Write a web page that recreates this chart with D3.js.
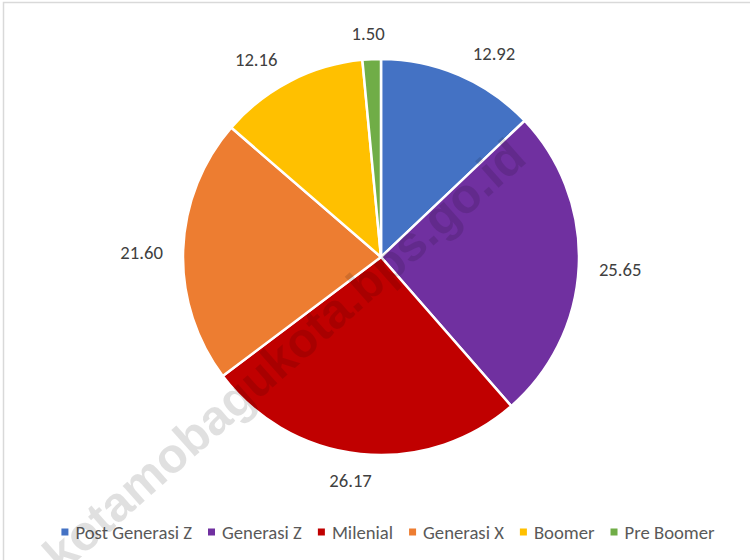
<!DOCTYPE html>
<html>
<head>
<meta charset="utf-8">
<script src="https://cdn.jsdelivr.net/npm/d3@7"></script>
<style>
  html, body { margin: 0; padding: 0; background: #fff; }
  svg { display: block; }
</style>
</head>
<body>
<svg id="chart" width="750" height="560"></svg>
<script>
(function () {
  "use strict";

  var categories = ["Post Generasi Z", "Generasi Z", "Milenial", "Generasi X", "Boomer", "Pre Boomer"];
  var values = [12.92, 25.65, 26.17, 21.60, 12.16, 1.50];
  var colors = ["#4472C4", "#7030A0", "#C00000", "#ED7D31", "#FFC000", "#70AD47"];
  // small angular shifts (deg) so labels clear the thin slice, like the original
  var labelShiftDeg = [5.8, 0.4, 1.8, -0.9, -5, -0.6];

  var width = 750, height = 560;
  var cx = 381, cy = 257, radius = 198;
  var labelFont = "Carlito, Calibri, Lato, sans-serif";
  var fontSize = 18.7;

  var svg = d3.select("#chart");

  // chart area border (only top / left edges visible in the crop)
  svg.append("rect")
    .attr("x", 3.5).attr("y", 2.5)
    .attr("width", width + 20).attr("height", height + 20)
    .attr("fill", "#fff")
    .attr("stroke", "#d9d9d9")
    .attr("stroke-width", 1.5);

  var data = categories.map(function (c, i) {
    return { name: c, value: values[i], color: colors[i], shift: labelShiftDeg[i] };
  });

  var pie = d3.pie()
    .sort(null)
    .value(function (d) { return d.value; });

  var arc = d3.arc()
    .innerRadius(0)
    .outerRadius(radius);

  var arcs = pie(data);

  var g = svg.append("g")
    .attr("transform", "translate(" + cx + "," + cy + ")");

  g.selectAll("path.slice")
    .data(arcs)
    .enter().append("path")
    .attr("class", "slice")
    .attr("d", arc)
    .attr("fill", function (d) { return d.data.color; })
    .attr("stroke", "#fff")
    .attr("stroke-width", 2.5)
    .attr("stroke-linejoin", "round");

  // outside-end data labels
  var labels = g.selectAll("text.lbl")
    .data(arcs)
    .enter().append("text")
    .attr("class", "lbl")
    .attr("font-family", labelFont)
    .attr("font-size", fontSize)
    .attr("fill", "#404040")
    .attr("text-anchor", "middle")
    .attr("dominant-baseline", "central")
    .text(function (d) { return d3.format(".2f")(d.data.value); });

  labels.each(function (d) {
    var w = this.getComputedTextLength();
    var a = (d.startAngle + d.endAngle) / 2 + d.data.shift * Math.PI / 180;
    var s = Math.sin(a), c = Math.cos(a);
    // distance so the label box sits ~20px off the rim
    var dist = radius + 20 + Math.abs(s) * w / 2 + Math.abs(c) * 5;
    d3.select(this).attr("x", dist * s).attr("y", -dist * c);
  });

  // legend along the bottom
  var legend = svg.append("g").attr("class", "legend");
  var items = legend.selectAll("g.item")
    .data(data)
    .enter().append("g")
    .attr("class", "item");

  items.append("rect")
    .attr("width", 7).attr("height", 7)
    .attr("y", -3.5)
    .attr("fill", function (d) { return d.color; });

  items.append("text")
    .attr("x", 14)
    .attr("font-family", labelFont)
    .attr("font-size", fontSize)
    .attr("fill", "#595959")
    .attr("dominant-baseline", "central")
    .text(function (d) { return d.name; });

  var offs = [], total = 0;
  items.each(function () {
    var tw = d3.select(this).select("text").node().getComputedTextLength();
    offs.push(total);
    total += 14 + tw + 16;
  });
  total -= 16;
  var startX = 388 - total / 2;
  items.attr("transform", function (d, i) {
    return "translate(" + (startX + offs[i]) + ",532)";
  });

  // watermark
  svg.append("text")
    .attr("transform", "translate(284,355) rotate(-41.5)")
    .attr("text-anchor", "middle")
    .attr("dominant-baseline", "central")
    .attr("font-family", "'Liberation Sans', Arial, sans-serif")
    .attr("font-weight", "bold")
    .attr("font-size", 49)
    .attr("fill", "#000")
    .attr("fill-opacity", 0.12)
    .text("kotamobagukota.bps.go.id");
}());
</script>
</body>
</html>
